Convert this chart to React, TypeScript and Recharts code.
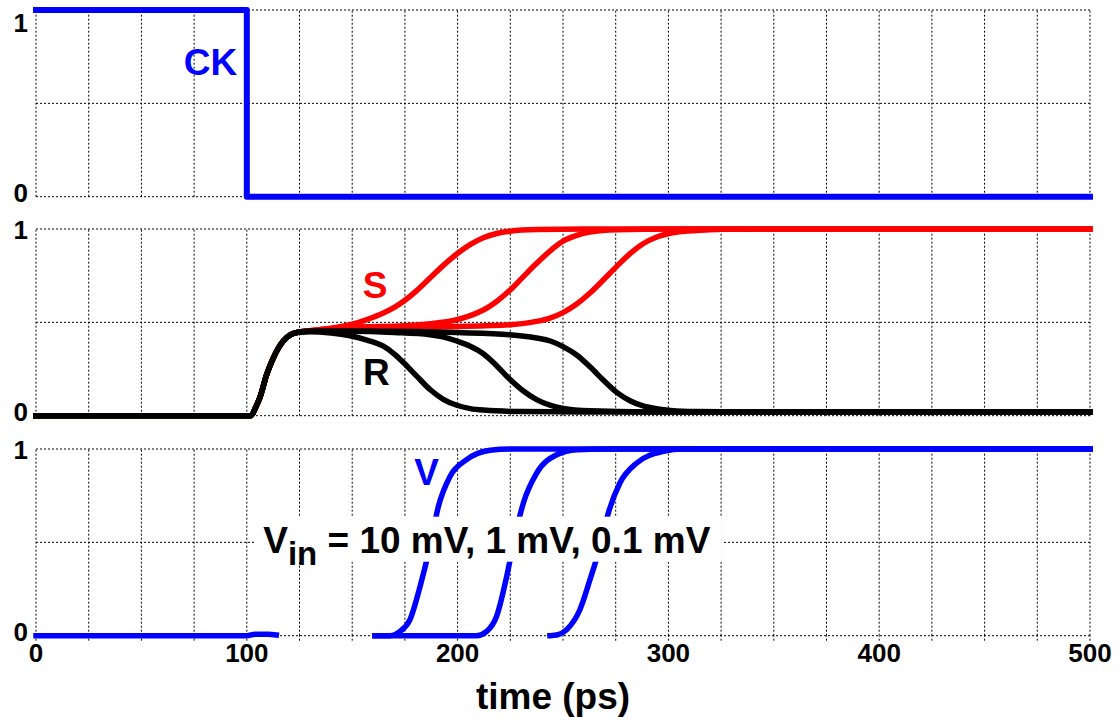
import React from "react";
import { LineChart, Line, XAxis, YAxis, CartesianGrid, ReferenceDot, ReferenceLine, Label } from "recharts";

const FONT = "'Liberation Sans', Arial, Helvetica, sans-serif";
const BLUE = "#0000ff";
const RED = "#ff0000";

// time axis (ps) and level ticks
const xTicks = [0, 25, 50, 75, 100, 125, 150, 175, 200, 225, 250, 275, 300, 325, 350, 375, 400, 425, 450, 475, 500];
const xLabelTicks = [0, 100, 200, 300, 400, 500];
const yTicks = [0, 0.5, 1];

// CK
const ckT = [0, 100, 100, 500];
const ckV = [1, 1, 0, 0];

// shared start of S and R (precharge then rise)
const riseT = [0, 102, 104, 106.3, 109.4, 112.6, 117.3, 121, 125];
const riseV = [0, 0, 0.04, 0.1, 0.22, 0.31, 0.4, 0.435, 0.448];

const s1T = [130, 140, 149, 157, 164.8, 170, 175, 180.6, 186.9, 193.2, 199.6, 205.9, 212.2, 218.5, 224.8, 237.5, 260, 500];
const s1V = [0.455, 0.468, 0.487, 0.515, 0.55, 0.58, 0.618, 0.67, 0.737, 0.805, 0.866, 0.916, 0.953, 0.976, 0.988, 0.997, 1, 1];
const s2T = [130, 149, 175, 187, 199.6, 206, 212.2, 218.5, 224.8, 231.2, 237.5, 243.8, 250, 256.5, 262.8, 275.5, 300, 500];
const s2V = [0.455, 0.474, 0.482, 0.492, 0.514, 0.536, 0.566, 0.612, 0.672, 0.745, 0.816, 0.882, 0.935, 0.966, 0.984, 0.996, 1, 1];
const s3T = [130, 149, 199.6, 224.8, 237.5, 243.8, 250, 256.5, 262.8, 269.2, 275.5, 281.8, 288, 294.5, 300.8, 313.5, 326, 350, 500];
const s3V = [0.455, 0.472, 0.478, 0.487, 0.505, 0.523, 0.552, 0.598, 0.657, 0.728, 0.8, 0.868, 0.921, 0.957, 0.977, 0.992, 0.998, 1, 1];

const r1T = [130, 140, 149, 157, 164.8, 170, 174.3, 180.6, 186.9, 193.2, 199.6, 206, 212.2, 230, 260, 500];
const r1V = [0.45, 0.443, 0.428, 0.405, 0.372, 0.33, 0.285, 0.212, 0.14, 0.088, 0.056, 0.038, 0.03, 0.022, 0.02, 0.02];
const r2T = [130, 149, 170, 186.9, 193, 199.6, 206, 212.2, 218.5, 224.8, 231.2, 237.5, 243.8, 250, 262.8, 290, 500];
const r2V = [0.452, 0.452, 0.446, 0.434, 0.422, 0.4, 0.372, 0.332, 0.268, 0.195, 0.132, 0.086, 0.056, 0.039, 0.026, 0.02, 0.02];
const r3T = [130, 160, 200, 224.8, 237.5, 244, 250, 256.5, 262.8, 269.2, 275.5, 281.8, 288, 295, 301, 313, 340, 500];
const r3V = [0.452, 0.452, 0.445, 0.434, 0.416, 0.4, 0.37, 0.325, 0.262, 0.19, 0.125, 0.08, 0.052, 0.036, 0.028, 0.022, 0.02, 0.02];

// V outputs
const vBaseT = [0, 100, 104, 110, 114];
const vBaseV = [0, 0, 0.008, 0.008, 0.004];
const v1T = [160.8, 168, 172.7, 177.4, 182.2, 186.9, 190.9, 196.4, 204.3, 215.4, 225, 500];
const v1V = [0, 0, 0.023, 0.086, 0.264, 0.478, 0.693, 0.853, 0.943, 0.993, 1, 1];
const v2T = [160.8, 209, 213.8, 218.5, 223.3, 227.2, 231.2, 237.5, 247, 256.5, 270, 500];
const v2V = [0, 0, 0.023, 0.104, 0.318, 0.532, 0.711, 0.871, 0.969, 0.996, 1, 1];
const v3T = [243.8, 247.5, 251.7, 258, 262.8, 267.6, 271.5, 277, 285, 297.6, 307, 500];
const v3V = [0, 0.005, 0.032, 0.139, 0.3, 0.478, 0.657, 0.818, 0.925, 0.987, 1, 1];

// annotation anchors (t, level)
const ckLabel = { t: 95.4, v: 0.652 };
const sLabel = { t: 160.8, v: 0.63 };
const rLabel = { t: 161.5, v: 0.166 };
const vLabel = { t: 185.3, v: 0.809 };
const vinLabel = { t: 107.8, v: 0.443 };

const zip = (t: number[], v: number[]) => t.map((x, i) => ({ t: x, v: v[i] }));

const PLOT_H = 186.7;
const W = 1120;
const PAD = 20;

function YTick({ x, y, payload, top }: any) {
  const val = payload.value;
  if (val !== 0 && val !== 1) return <g />;
  let dy = val === 0 ? 5 : 10;
  if (top && val === 1) dy = 22;
  return (
    <text x={x} y={y} dy={dy} textAnchor="end" fontSize={26} fontWeight="bold" fontFamily={FONT} fill="#000">
      {val}
    </text>
  );
}

function XTick({ x, y, payload }: any) {
  if (!xLabelTicks.includes(payload.value)) return <g />;
  return (
    <text x={x} y={y} dy={19} textAnchor="middle" fontSize={26} fontWeight="bold" fontFamily={FONT} fill="#000">
      {payload.value}
    </text>
  );
}

const textLabel = (txt: string, color: string, anchor: string) => (p: any) => (
  <text x={p.cx} y={p.cy} textAnchor={anchor} fontSize={37} fontWeight="bold" fontFamily={FONT} fill={color}>
    {txt}
  </text>
);

const vinShape = (p: any) => (
  <g>
    <rect x={p.cx - 7.3} y={p.cy - 36.3} width={466} height={45} fill="#fff" />
    <text x={p.cx} y={p.cy} fontSize={37} fontWeight="bold" fontFamily={FONT} fill="#000">
      V<tspan dy={12} fontSize={33}>in</tspan>
      <tspan dy={-12}> = 10 mV, 1 mV, 0.1 mV</tspan>
    </text>
  </g>
);

const lineProps = {
  type: "monotone" as const,
  dataKey: "v",
  dot: false,
  activeDot: false,
  isAnimationActive: false,
  strokeWidth: 5.5,
  strokeLinecap: "square" as const,
  strokeLinejoin: "round" as const,
};

const gridLines = () =>
  xTicks.map((t) => (
    <ReferenceLine key={t} x={t} stroke="#000" strokeDasharray="2 2" strokeWidth={1} zIndex={-100} />
  ));

export default function App() {
  const grid = (
    <CartesianGrid stroke="#000" strokeDasharray="2 2" strokeWidth={1} vertical={false} horizontalValues={yTicks} />
  );
  const yAxis = (top: boolean) => (
    <YAxis
      type="number"
      domain={[0, 1]}
      ticks={yTicks}
      width={36}
      axisLine={false}
      tickLine={false}
      tickSize={0}
      tickMargin={8}
      interval={0}
      tick={<YTick top={top} />}
    />
  );
  const plainX = (
    <XAxis type="number" dataKey="t" domain={[0, 500]} ticks={xTicks} interval={0} height={0} tick={false} tickLine={false} axisLine={false} />
  );

  return (
    <div style={{ position: "absolute", left: 0, top: 0, width: W, height: 723, background: "#fff", fontFamily: FONT }}>
      {/* CK panel */}
      <div style={{ position: "absolute", left: 0, top: 0 }}>
        <LineChart width={W} height={10 + PLOT_H + 10} margin={{ top: 10, right: W - 1090, bottom: 10, left: 0 }}>
          {grid}
          {plainX}
          {yAxis(true)}
          {gridLines()}
          <Line {...lineProps} type="linear" data={zip(ckT, ckV)} stroke={BLUE} strokeWidth={6} />
          <ReferenceDot x={ckLabel.t} y={ckLabel.v} r={0} zIndex={1500} shape={textLabel("CK", BLUE, "end")} />
        </LineChart>
      </div>

      {/* S / R panel */}
      <div style={{ position: "absolute", left: 0, top: 229.3 - PAD }}>
        <LineChart width={W} height={PAD + PLOT_H + 10} margin={{ top: PAD, right: W - 1090, bottom: 10, left: 0 }}>
          {grid}
          {plainX}
          {yAxis(false)}
          {gridLines()}
          <Line {...lineProps} data={zip([...riseT, ...s1T], [...riseV, ...s1V])} stroke={RED} />
          <Line {...lineProps} data={zip([...riseT, ...s2T], [...riseV, ...s2V])} stroke={RED} />
          <Line {...lineProps} data={zip([...riseT, ...s3T], [...riseV, ...s3V])} stroke={RED} />
          <Line {...lineProps} data={zip([...riseT, ...r3T], [...riseV, ...r3V])} stroke="#000" />
          <Line {...lineProps} data={zip([...riseT, ...r2T], [...riseV, ...r2V])} stroke="#000" />
          <Line {...lineProps} data={zip([...riseT, ...r1T], [...riseV, ...r1V])} stroke="#000" />
          <ReferenceDot x={sLabel.t} y={sLabel.v} r={0} zIndex={1500} shape={textLabel("S", RED, "middle")} />
          <ReferenceDot x={rLabel.t} y={rLabel.v} r={0} zIndex={1500} shape={textLabel("R", "#000", "middle")} />
        </LineChart>
      </div>

      {/* V panel */}
      <div style={{ position: "absolute", left: 0, top: 449.3 - PAD }}>
        <LineChart width={W} height={723 - 449.3 + PAD} margin={{ top: PAD, right: W - 1090, bottom: 0, left: 0 }}>
          {grid}
          <XAxis
            type="number"
            dataKey="t"
            domain={[0, 500]}
            ticks={xTicks}
            interval={0}
            height={723 - 449.3 - PLOT_H}
            axisLine={false}
            tickSize={5}
            tickMargin={2}
            tickLine={{ stroke: "#000", strokeDasharray: "2 2" }}
            tick={<XTick />}
          >
            <Label
              content={(p: any) => (
                <text
                  x={p.viewBox.x + p.viewBox.width / 2 - 10}
                  y={p.viewBox.y + 73.5}
                  textAnchor="middle"
                  fontSize={37}
                  fontWeight="bold"
                  fontFamily={FONT}
                  fill="#000"
                >
                  time (ps)
                </text>
              )}
            />
          </XAxis>
          {yAxis(false)}
          {gridLines()}
          <Line {...lineProps} data={zip(vBaseT, vBaseV)} stroke={BLUE} />
          <Line {...lineProps} data={zip(v1T, v1V)} stroke={BLUE} />
          <Line {...lineProps} data={zip(v2T, v2V)} stroke={BLUE} />
          <Line {...lineProps} data={zip(v3T, v3V)} stroke={BLUE} />
          <ReferenceDot x={vLabel.t} y={vLabel.v} r={0} zIndex={1500} shape={textLabel("V", BLUE, "middle")} />
          <ReferenceDot x={vinLabel.t} y={vinLabel.v} r={0} zIndex={1500} shape={vinShape} />
        </LineChart>
      </div>
    </div>
  );
}
